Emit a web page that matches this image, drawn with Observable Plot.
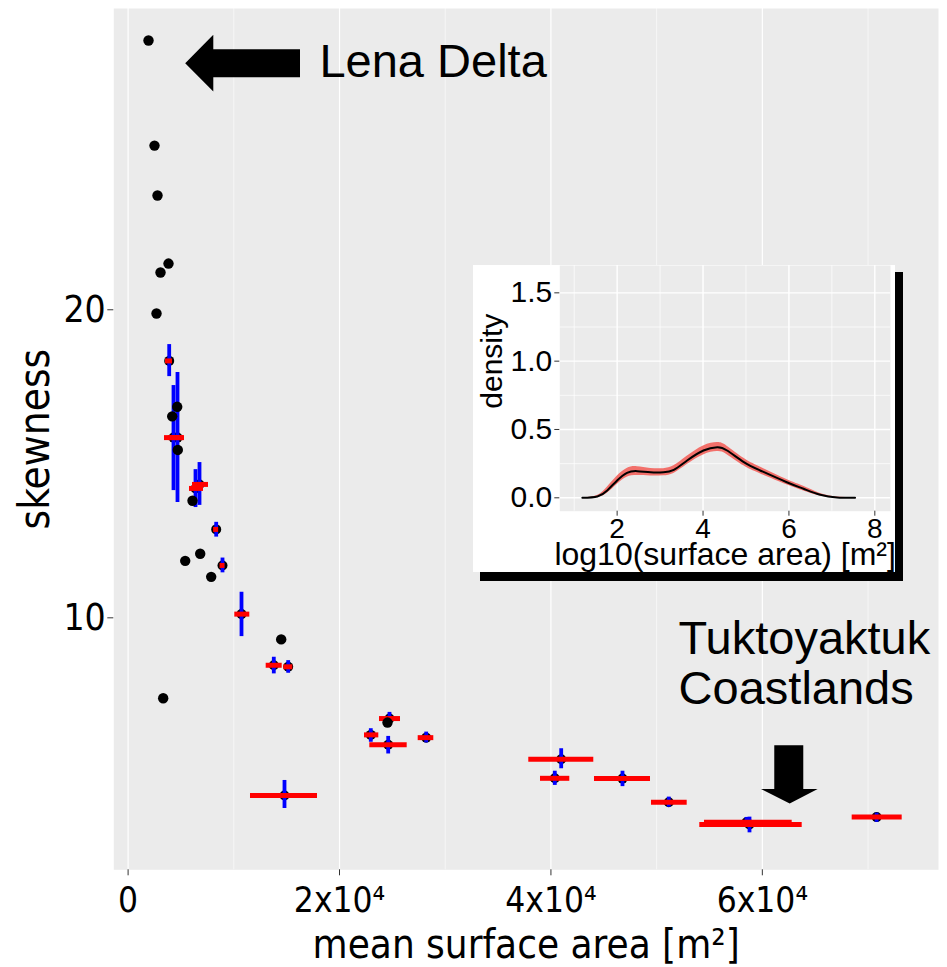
<!DOCTYPE html>
<html><head><meta charset="utf-8">
<script src="https://cdn.jsdelivr.net/npm/d3@7"></script>
<script src="https://cdn.jsdelivr.net/npm/@observablehq/plot@0.6"></script>
<style>
body{margin:0;background:#fff;}
#wrap{position:relative;width:947px;height:967px;}
#main{position:absolute;left:0;top:0;}
#shadow{position:absolute;left:480px;top:272px;width:423px;height:309px;background:#000;}
#inset{position:absolute;left:473px;top:265px;width:422px;height:307px;background:#fff;}
</style></head><body>
<div id="wrap"><div id="main"></div><div id="shadow"></div><div id="inset"></div></div>
<script>
// ---- Main panel data ----
// Lena Delta (black points without error bars)
const lenaArea = [1930,2497,2781,3822,3065,2687,4645,4172,4702,6092,5402,6821,7861,14483,3320,24539];
const lenaSkew = [28.74,25.33,23.71,21.50,21.21,19.88,16.85,16.54,15.45,13.80,11.85,12.08,11.33,9.30,7.39,6.60];

// Points with uncertainty bars
const ptArea   = [3888,4295,4673,6754,6376,8334,8930,10728,13783,15145,14795,24729,22960,24605,28200,40971,40366,46770,51150,58785,58500,70810];
const ptSkew   = [18.34,15.85,15.85,14.33,14.20,12.87,11.70,10.12,8.46,8.41,4.23,6.73,6.20,5.88,6.11,5.41,4.79,4.78,4.01,3.29,3.36,3.53];
const ptAreaLo = [3538,3443,3822,6092,5808,8088,8694,10094,13063,14729,11579,23783,22364,22865,27443,37906,39013,44121,49514,54083,54527,68499];
const ptAreaHi = [4200,5241,5335,7606,7133,8561,9167,11513,14578,15581,17917,25769,23716,26403,28919,44055,41785,49419,52891,63770,62824,73230];
const ptSkewLo = [17.83,14.13,13.74,13.65,13.58,12.62,11.46,9.39,8.18,8.20,3.81,6.48,5.96,5.58,5.94,5.10,4.56,4.52,3.85,3.02,3.20,3.36];
const ptSkewHi = [18.87,17.54,17.96,15.04,14.81,13.10,11.94,10.83,8.72,8.61,4.72,6.93,6.40,6.15,6.29,5.75,5.02,5.02,4.18,3.53,3.52,3.66];

const xTicks = [0,20000,40000,60000];
const xTickLabels = ["0","2x10\u2074","4x10\u2074","6x10\u2074"];
const yTicks = [10,20];
const gridMajorX = [0,20000,40000,60000];
const gridMinorX = [10000,30000,50000,70000];

// Annotations (data coordinates)
const noteText = ["Lena Delta","Tuktoyaktuk\nCoastlands"];
const noteArea = [18100,52079];
const noteSkew = [27.55,7.21];
// left arrow outline: x positions with lower/upper skewness bounds
const arrowLX  = [5449,8107,8107,16309];
const arrowLLo = [27.99,27.07,27.53,27.53];
const arrowLHi = [27.99,28.91,28.44,28.44];
// down arrow outline: skewness positions with left/right area bounds
const arrowDY  = [3.96,4.43,4.43,5.85];
const arrowDLo = [62635,59920,61176,61176];
const arrowDHi = [62635,65283,63920,63920];

// ---- Inset data ----
const densX  = [1.19,1.54,1.77,2.0,2.23,2.47,2.78,3.08,3.32,3.63,4.01,4.33,4.56,4.95,5.33,5.95,6.34,6.73,7.12,7.54];
const densY  = [0,0.010,0.054,0.127,0.183,0.195,0.187,0.187,0.205,0.273,0.346,0.370,0.346,0.261,0.200,0.114,0.066,0.022,0.002,0];
const densLo = [0,0.003,0.033,0.097,0.150,0.163,0.160,0.161,0.178,0.243,0.314,0.338,0.316,0.234,0.176,0.095,0.050,0.013,0,0];
const densHi = [0,0.017,0.077,0.158,0.215,0.228,0.215,0.213,0.234,0.304,0.380,0.404,0.378,0.289,0.225,0.134,0.084,0.032,0.006,0];
const insetXTicks = [2,4,6,8];
const insetYTicks = [0,0.5,1,1.5];
const insetMajorX = [2,4,6,8];
const insetMinorX = [1,3,5,7];
const insetMajorY = [0,0.5,1,1.5];
const insetMinorY = [0.25,0.75,1.25];

// ---- build tables ----
const lena = lenaArea.map((x,i)=>({x, y: lenaSkew[i]}));
const pts = ptArea.map((x,i)=>({x, y: ptSkew[i], xlo: ptAreaLo[i], xhi: ptAreaHi[i], ylo: ptSkewLo[i], yhi: ptSkewHi[i]}));
const notes = noteText.map((t,i)=>({t, x: noteArea[i], y: noteSkew[i]}));
const arrowL = arrowLX.map((x,i)=>({x, lo: arrowLLo[i], hi: arrowLHi[i]}));
const arrowD = arrowDY.map((y,i)=>({y, lo: arrowDLo[i], hi: arrowDHi[i]}));
const dens = densX.map((x,i)=>({x, y: densY[i], lo: densLo[i], hi: densHi[i]}));

const axisFont = "'DejaVu Sans Condensed','DejaVu Sans',sans-serif";
const main = Plot.plot({
  width: 947, height: 967,
  marginLeft: 113.3, marginRight: 9, marginTop: 8, marginBottom: 97.7,
  style: {background: "white", fontFamily: axisFont, color: "black", overflow: "visible"},
  x: {domain: [-1353, 76665]},
  y: {domain: [1.82, 29.78]},
  marks: [
    Plot.frame({fill: "#EBEBEB"}),
    Plot.ruleX(gridMinorX, {stroke: "white", strokeWidth: 0.6}),
    Plot.ruleX(gridMajorX, {stroke: "white", strokeWidth: 1.2}),
    Plot.dot(pts, {x: "x", y: "y", r: 5, fill: "black"}),
    Plot.ruleX(pts, {x: "x", y1: "ylo", y2: "yhi", stroke: "blue", strokeWidth: 3.8}),
    Plot.ruleY(pts, {y: "y", x1: "xlo", x2: "xhi", stroke: "red", strokeWidth: 5}),
    Plot.dot(lena, {x: "x", y: "y", r: 5.2, fill: "black"}),
    Plot.areaY(arrowL, {x: "x", y1: "lo", y2: "hi", fill: "black", curve: "linear"}),
    Plot.areaX(arrowD, {y: "y", x1: "lo", x2: "hi", fill: "black", curve: "linear"}),
    Plot.text(notes, {x: "x", y: "y", text: "t", textAnchor: "start", lineAnchor: "bottom", lineHeight: 1.064,
      fontSize: 47, fontFamily: "'Liberation Sans', Arial, sans-serif", fill: "black"}),
    Plot.axisX({ticks: xTicks, tickFormat: d => xTickLabels[xTicks.indexOf(d)], tickSize: 6, tickPadding: 11,
      fontSize: 35, label: null, stroke: "#333"}),
    Plot.axisX([], {label: "mean surface area [m\u00b2]", labelAnchor: "center", labelArrow: "none", labelOffset: 87.7, fontSize: 40, tickSize: 0}),
    Plot.axisY({ticks: yTicks, tickSize: 6, tickPadding: 2, fontSize: 37, label: null, stroke: "#333"}),
    Plot.axisY([], {label: "skewness", labelAnchor: "center", labelArrow: "none", labelOffset: 95, fontSize: 42, tickSize: 0})
  ]
});
document.getElementById("main").appendChild(main);

const inset = Plot.plot({
  width: 422, height: 307,
  marginLeft: 86.3, marginRight: 5, marginTop: 0, marginBottom: 61.3,
  style: {background: "white", fontFamily: "'Liberation Sans', Arial, sans-serif", color: "black", overflow: "visible"},
  x: {domain: [0.665, 8.365]},
  y: {domain: [-0.098, 1.70]},
  marks: [
    Plot.frame({fill: "#EBEBEB"}),
    Plot.ruleX(insetMinorX, {stroke: "white", strokeWidth: 0.7}),
    Plot.ruleY(insetMinorY, {stroke: "white", strokeWidth: 0.7}),
    Plot.ruleX(insetMajorX, {stroke: "white", strokeWidth: 1.4}),
    Plot.ruleY(insetMajorY, {stroke: "white", strokeWidth: 1.4}),
    Plot.areaY(dens, {x: "x", y1: "lo", y2: "hi", fill: "#F2706B", curve: "natural"}),
    Plot.line(dens, {x: "x", y: "y", stroke: "black", strokeWidth: 2, curve: "natural"}),
    Plot.axisX({ticks: insetXTicks, tickSize: 5, tickPadding: 2, fontSize: 28, label: null, stroke: "#333"}),
    Plot.axisX([], {label: "log10(surface area) [m\u00b2]", labelAnchor: "center", labelArrow: "none", labelOffset: 53.3, fontSize: 32, tickSize: 0}),
    Plot.axisY({ticks: insetYTicks, tickFormat: d3.format(".1f"), tickSize: 5, tickPadding: 2.6, fontSize: 30, label: null, stroke: "#333"}),
    Plot.text([{t: "density", y: 1.0}], {text: "t", y: "y", frameAnchor: "left", textAnchor: "middle", rotate: -90, dx: -79.3, lineAnchor: "top", fontSize: 30, fill: "black"})
  ]
});
document.getElementById("inset").appendChild(inset);
</script>
</body></html>
